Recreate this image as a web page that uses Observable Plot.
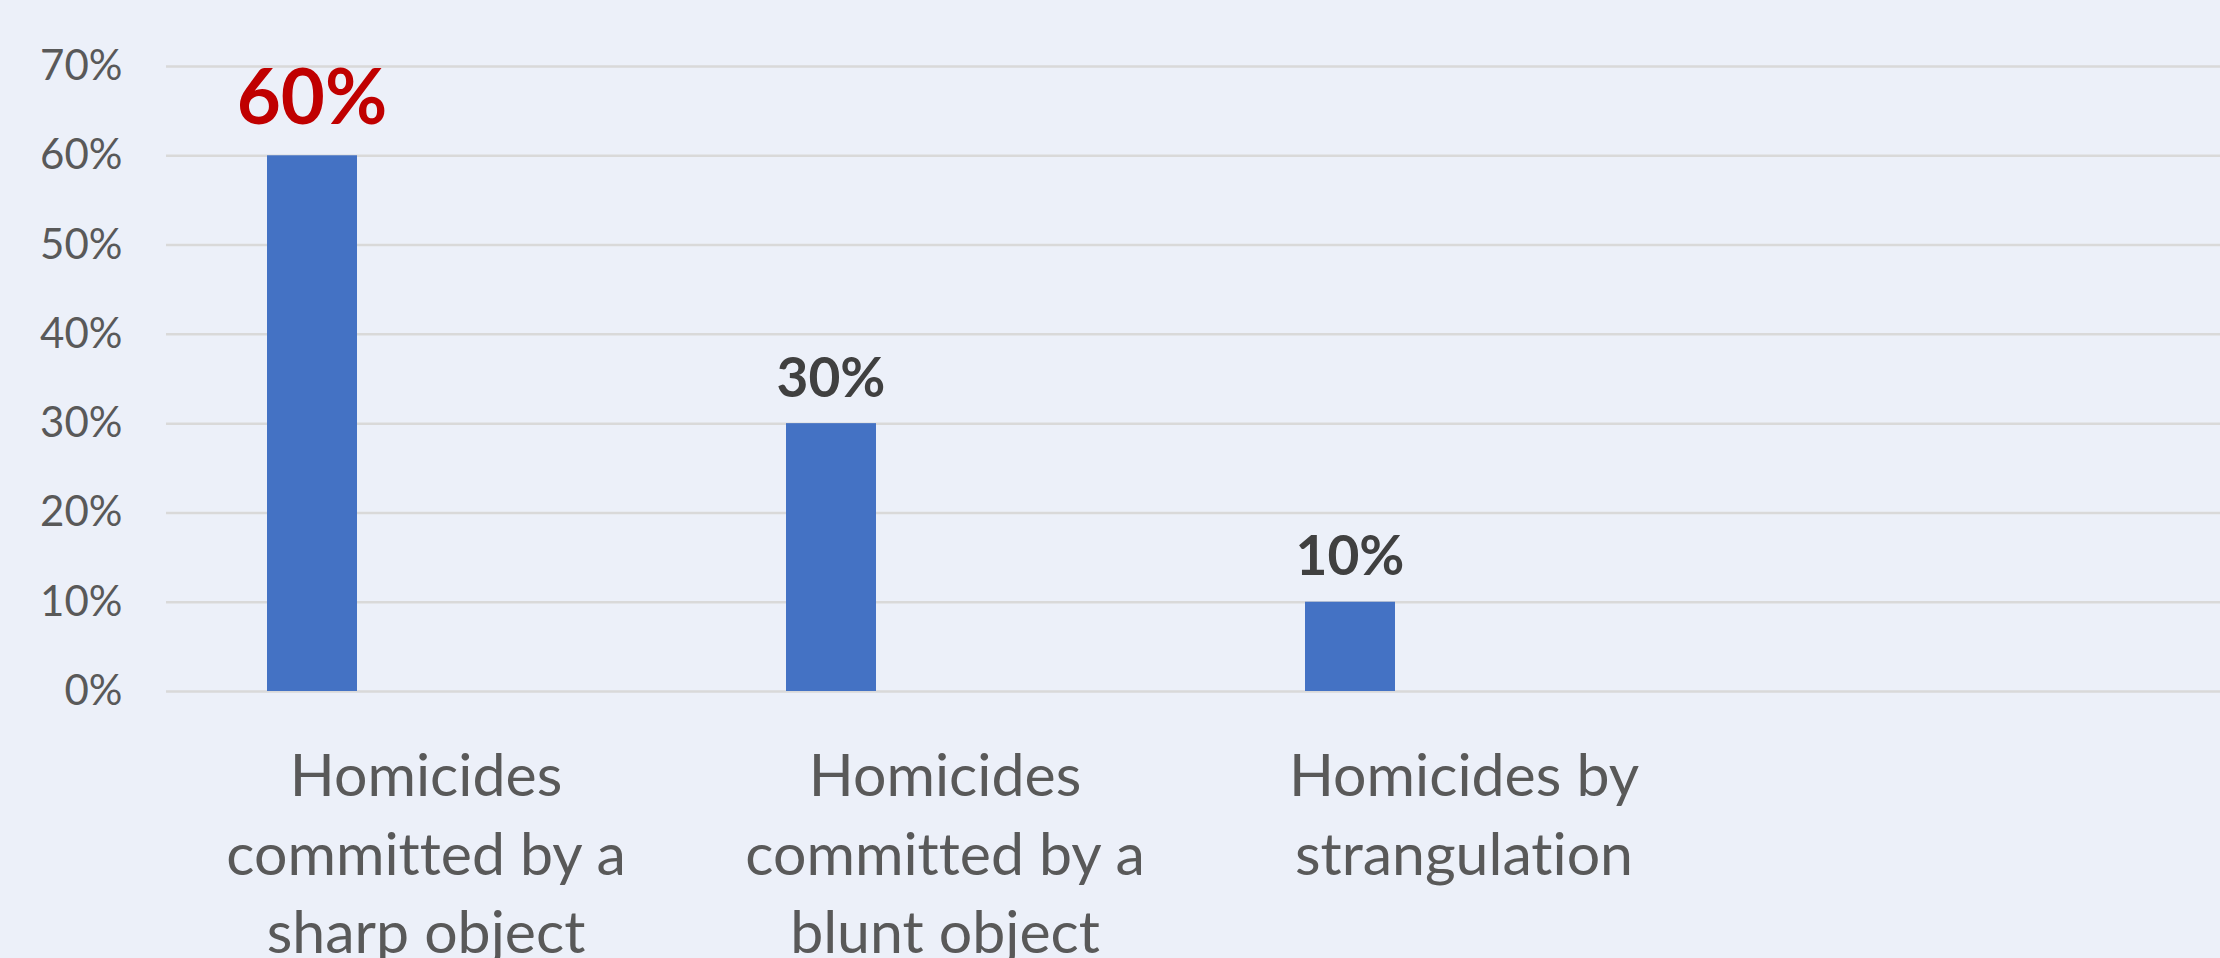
<!DOCTYPE html>
<html>
<head>
<meta charset="utf-8">
<script src="https://cdn.jsdelivr.net/npm/d3@7"></script>
<script src="https://cdn.jsdelivr.net/npm/@observablehq/plot@0.6"></script>
<style>
  html, body { margin: 0; padding: 0; background: #ECF0F9; }
  #chart { width: 2220px; height: 958px; overflow: hidden; }
  #chart svg text { font-variant-ligatures: none; font-feature-settings: "liga" 0, "dlig" 0; }
</style>
</head>
<body>
<div id="chart"></div>
<script>
const categories = ["sharp", "blunt", "strangulation"];
const tickLabels = [
  "Homicides\ncommitted by a\nsharp object",
  "Homicides\ncommitted by a\nblunt object",
  "Homicides by\nstrangulation"
];
const values = [60, 30, 10];
const valueLabels = ["60%", "30%", "10%"];
const yTicks = [0, 10, 20, 30, 40, 50, 60, 70];
const yTickLabels = ["0%", "10%", "20%", "30%", "40%", "50%", "60%", "70%"];

const data = categories.map((c, i) => ({cat: c, value: values[i], label: valueLabels[i]}));
const labelOf = new Map(categories.map((c, i) => [c, tickLabels[i]]));
const yLabelOf = new Map(yTicks.map((t, i) => [t, yTickLabels[i]]));

const chart = Plot.plot({
  width: 2220,
  height: 958,
  marginLeft: 166,
  marginRight: 0,
  marginTop: 66,
  marginBottom: 267,
  style: {background: "transparent", color: "#595959", fontFamily: "Lato, sans-serif"},
  x: {domain: categories, range: [166, 1723], padding: 0, label: null},
  y: {domain: [0, 70], label: null},
  marks: [
    Plot.ruleY(yTicks, {stroke: "#D9D9D9", strokeWidth: 2.5}),
    Plot.barY(data, {x: "cat", y: "value", fill: "#4472C4", insetLeft: 101, insetRight: 328}),
    Plot.text(data.slice(0, 1), {x: "cat", y: "value", text: "label", dx: -114, dy: -32,
      lineAnchor: "bottom", fontSize: 76, fontWeight: "bold", fill: "#C00000"}),
    Plot.text(data.slice(1), {x: "cat", y: "value", text: "label", dx: -114, dy: -27,
      lineAnchor: "bottom", fontSize: 55, fontWeight: "bold", fill: "#404040"}),
    Plot.axisY({ticks: yTicks, tickSize: 0, tickPadding: 44, fontSize: 42,
      tickFormat: d => yLabelOf.get(d), label: null}),
    Plot.axisX({tickSize: 0, tickPadding: 49, fontSize: 59, lineHeight: 1.33,
      tickFormat: d => labelOf.get(d), label: null})
  ]
});
document.getElementById("chart").appendChild(chart);
</script>
</body>
</html>
